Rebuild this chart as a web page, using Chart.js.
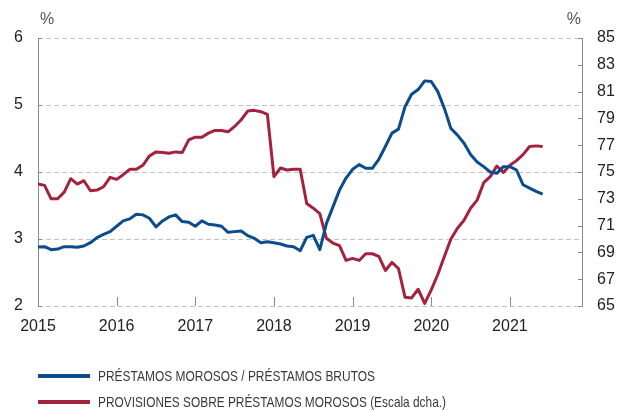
<!DOCTYPE html>
<html>
<head>
<meta charset="utf-8">
<script src="https://cdn.jsdelivr.net/npm/chart.js@4/dist/chart.umd.min.js"></script>
<style>
  html, body { margin: 0; padding: 0; background: #fff; }
  #wrap { position: relative; width: 619px; height: 410px; overflow: hidden; }
  canvas { position: absolute; left: 0; top: 0; }
  .pct { position: absolute; font-family: "Liberation Sans", Arial, sans-serif; font-size: 16px; color: #555; line-height: 16px; }
  .leg { position: absolute; left: 38px; height: 20px; }
  .leg .sw { position: absolute; left: 0; top: 8px; width: 52px; height: 4px; }
  .leg .tx { position: absolute; left: 60px; top: 0; white-space: nowrap; font-family: "Liberation Sans Narrow", "Liberation Sans", Arial, sans-serif; font-size: 15px; line-height: 20px; color: #3a3a3a; transform-origin: 0 50%; }
</style>
</head>
<body>
<div id="wrap">
  <canvas id="c" width="619" height="410"></canvas>
  <div class="pct" style="left:40px; top:11px;">%</div>
  <div class="pct" style="right:38px; top:11px;">%</div>
  <div class="leg" style="top:366px;"><div class="sw" style="background:#0c4b8c"></div><div class="tx" id="l1"></div></div>
  <div class="leg" style="top:392px;"><div class="sw" style="background:#a3233f"></div><div class="tx" id="l2"></div></div>
</div>
<script>
// ---- data (monthly, Jan 2015 .. Jun 2021) ----
const yearTicks = ["2015", "2016", "2017", "2018", "2019", "2020", "2021"];
const leftTicks = [2, 3, 4, 5, 6];
const rightTicks = [65, 67, 69, 71, 73, 75, 77, 79, 81, 83, 85];
const seriesNames = [
  "PRÉSTAMOS MOROSOS / PRÉSTAMOS BRUTOS",
  "PROVISIONES SOBRE PRÉSTAMOS MOROSOS (Escala dcha.)"
];
const morosos = [
  2.88, 2.885, 2.84, 2.85, 2.885, 2.885, 2.876, 2.895, 2.945, 3.02, 3.07, 3.11,
  3.19, 3.27, 3.30, 3.37, 3.36, 3.31, 3.18, 3.27, 3.33, 3.36, 3.26, 3.25,
  3.19, 3.27, 3.22, 3.21, 3.19, 3.10, 3.11, 3.12, 3.05, 3.01, 2.945, 2.96,
  2.945, 2.925, 2.895, 2.885, 2.825, 3.025, 3.055, 2.84, 3.23, 3.48, 3.73, 3.91,
  4.04, 4.11, 4.055, 4.055, 4.19, 4.38, 4.58, 4.64, 4.975, 5.16, 5.23, 5.36,
  5.35, 5.20, 4.95, 4.65, 4.55, 4.43, 4.26, 4.15, 4.08, 4.00, 3.98, 4.08,
  4.08, 4.03, 3.81, 3.76, 3.71, 3.67
];
const provisiones = [
  74.1, 74.0, 73.0, 73.0, 73.5, 74.5, 74.1, 74.35, 73.6, 73.65, 73.9, 74.6,
  74.45, 74.8, 75.2, 75.2, 75.5, 76.2, 76.5, 76.45, 76.4, 76.5, 76.45, 77.4,
  77.6, 77.6, 77.9, 78.1, 78.1, 78.0, 78.4, 78.9, 79.55, 79.6, 79.5, 79.3,
  74.65, 75.3, 75.15, 75.2, 75.2, 72.65, 72.3, 71.9, 70.05, 69.7, 69.5, 68.4,
  68.55, 68.4, 68.9, 68.9, 68.7, 67.65, 68.25, 67.8, 65.65, 65.6, 66.25, 65.2,
  66.2, 67.35, 68.7, 70.0, 70.8, 71.4, 72.3, 72.9, 74.2, 74.65, 75.45, 74.97,
  75.5, 75.85, 76.3, 76.9, 76.95, 76.9
];

const BLUE = "#0c4b8c";
const RED = "#a3233f";
const AXIS = "#8a8a8a";
const GRID = "#c2c2c2";
const TXT = "#222";
const FONT = { family: "'Liberation Sans', Arial, sans-serif", size: 16 };

// dashed horizontal grid (from left scale ticks), drawn under the lines
const dashedGrid = {
  id: "dashedGrid",
  beforeDatasetsDraw(chart) {
    const ctx = chart.ctx, ca = chart.chartArea, yl = chart.scales.y;
    ctx.save();
    ctx.strokeStyle = GRID;
    ctx.lineWidth = 1;
    ctx.setLineDash([5, 3]);
    yl.ticks.forEach(t => {
      const py = Math.round(yl.getPixelForValue(t.value)) + 0.5;
      ctx.beginPath();
      ctx.moveTo(ca.left, py); ctx.lineTo(ca.right, py);
      ctx.stroke();
    });
    ctx.restore();
  }
};

// inward tick marks drawn from the library's scales
const innerTicks = {
  id: "innerTicks",
  afterDraw(chart) {
    const ctx = chart.ctx, ca = chart.chartArea;
    const x = chart.scales.x, yl = chart.scales.y, yr = chart.scales.y1;
    ctx.save();
    ctx.strokeStyle = AXIS;
    ctx.lineWidth = 1;
    ctx.beginPath();
    x.ticks.forEach(t => {
      const px = Math.round(x.getPixelForValue(t.value)) + 0.5;
      ctx.moveTo(px, ca.bottom); ctx.lineTo(px, ca.bottom - 9);
    });
    yl.ticks.forEach(t => {
      const py = Math.round(yl.getPixelForValue(t.value)) + 0.5;
      ctx.moveTo(ca.left, py); ctx.lineTo(ca.left + 4, py);
    });
    yr.ticks.forEach(t => {
      const py = Math.round(yr.getPixelForValue(t.value)) + 0.5;
      ctx.moveTo(ca.right, py); ctx.lineTo(ca.right - 4, py);
    });
    ctx.stroke();
    ctx.restore();
  }
};

const ds1 = morosos.map((v, i) => ({ x: i, y: v }));
const ds2 = provisiones.map((v, i) => ({ x: i, y: v }));

new Chart(document.getElementById("c"), {
  type: "line",
  data: {
    datasets: [
      { label: seriesNames[0], data: ds1, yAxisID: "y", borderColor: BLUE, borderWidth: 3, pointRadius: 0, tension: 0, fill: false, borderJoinStyle: "round" },
      { label: seriesNames[1], data: ds2, yAxisID: "y1", borderColor: RED, borderWidth: 3, pointRadius: 0, tension: 0, fill: false, borderJoinStyle: "round" }
    ]
  },
  options: {
    responsive: false,
    animation: false,
    layout: { padding: { top: 38, bottom: 74, left: 0, right: 0 } },
    plugins: { legend: { display: false }, tooltip: { enabled: false } },
    scales: {
      x: {
        type: "linear", min: 0, max: 83,
        afterBuildTicks(s) { s.ticks = yearTicks.map((_, i) => ({ value: i * 12 })); },
        afterFit(s) { s.height = 30; },
        ticks: { autoSkip: false, maxRotation: 0, padding: 11, color: TXT, font: FONT,
          callback: (v) => yearTicks[Math.round(v / 12)] },
        grid: { display: false, drawTicks: false },
        border: { display: false }
      },
      y: {
        position: "left", min: 2, max: 6,
        afterBuildTicks(s) { s.ticks = leftTicks.map(v => ({ value: v })); },
        afterFit(s) { s.width = 38; },
        ticks: { padding: 15, color: TXT, font: FONT },
        grid: { drawOnChartArea: false, drawTicks: false },
        border: { display: true, color: AXIS, width: 1 }
      },
      y1: {
        position: "right", min: 65, max: 85,
        afterBuildTicks(s) { s.ticks = rightTicks.map(v => ({ value: v })); },
        afterFit(s) { s.width = 37; },
        ticks: { padding: 15, color: TXT, font: FONT },
        grid: { display: false, drawTicks: false },
        border: { display: true, color: AXIS, width: 1 }
      }
    }
  },
  plugins: [dashedGrid, innerTicks]
});

// HTML legend text, fitted to the reference widths
function setLeg(id, text, target) {
  const el = document.getElementById(id);
  el.textContent = text;
  const w = el.getBoundingClientRect().width;
  if (w > 0) el.style.transform = "scaleX(" + (target / w) + ")";
}
setLeg("l1", seriesNames[0], 277);
setLeg("l2", seriesNames[1], 348);
</script>
</body>
</html>
